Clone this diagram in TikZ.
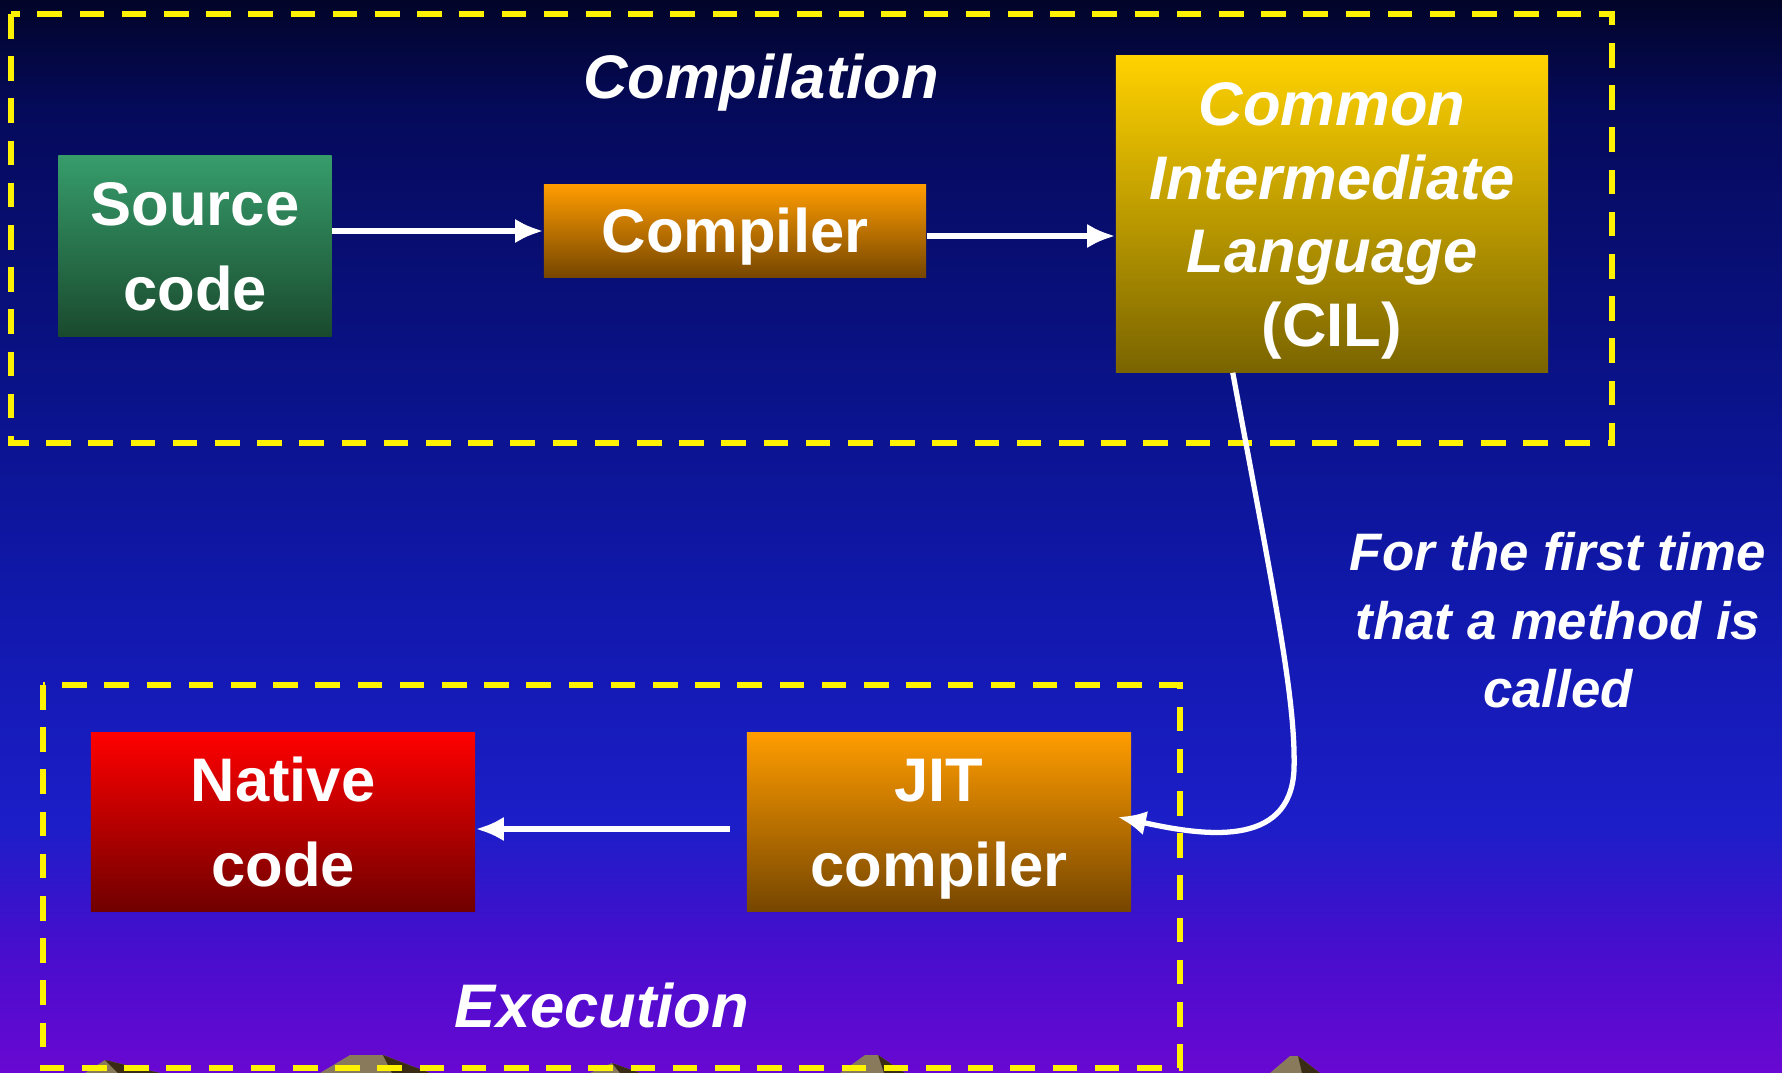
\documentclass[tikz,border=0pt]{standalone}
\usepackage{fontspec}
\setmainfont{Liberation Sans}
\usetikzlibrary{arrows.meta}

\definecolor{skytop}{RGB}{2,4,40}
\definecolor{skya}{RGB}{5,10,90}
\definecolor{skyb}{RGB}{10,18,135}
\definecolor{skyc}{RGB}{16,24,170}
\definecolor{skyd}{RGB}{28,30,200}
\definecolor{skye}{RGB}{70,14,205}
\definecolor{skyf}{RGB}{105,8,210}
\pgfdeclareverticalshading{sky}{100bp}{color(0bp)=(skyf); color(25bp)=(skyf); color(31bp)=(skye); color(36.5bp)=(skyd); color(47.5bp)=(skyc); color(57.5bp)=(skyb); color(70bp)=(skya); color(75bp)=(skytop); color(100bp)=(skytop)}

\definecolor{greentop}{RGB}{54,156,106}
\definecolor{greenbot}{RGB}{26,74,46}
\definecolor{orangetop}{RGB}{255,156,0}
\definecolor{orangebot}{RGB}{118,70,0}
\definecolor{goldtop}{RGB}{255,210,0}
\definecolor{goldbot}{RGB}{122,100,0}
\definecolor{redtop}{RGB}{255,0,0}
\definecolor{redbot}{RGB}{112,0,0}
\definecolor{rocklight}{RGB}{138,122,92}
\definecolor{rockdark}{RGB}{58,44,20}

\begin{document}
\begin{tikzpicture}[x=0.01cm, y=-0.01cm,
    stage/.style={inner sep=0pt, text=white, align=center, text height=36.5pt, text depth=0pt, font=\fontsize{17.5}{24}\selectfont\bfseries},
    phase/.style={draw=yellow, line width=1.9pt, dash pattern=on 7pt off 5pt},
    flow/.style={draw=white, line width=1.5pt, -{Latex[length=8pt,width=7pt]}},
    caption/.style={text=white, align=center, font=\fontsize{17.5}{21}\selectfont\bfseries\itshape}]

    \useasboundingbox (0,0) rectangle (1782,1073);
    \shade[shading=sky] (0,0) rectangle (1782,1073);

    \fill[rocklight] (85,1073) -- (105,1060) -- (130,1066) -- (160,1073) -- cycle;
    \fill[rockdark] (105,1060) -- (130,1066) -- (160,1073) -- (118,1073) -- cycle;
    \fill[rocklight] (320,1073) -- (350,1055) -- (383,1055) -- (430,1073) -- cycle;
    \fill[rockdark] (383,1055) -- (430,1073) -- (392,1073) -- cycle;
    \fill[rocklight] (590,1073) -- (612,1063) -- (640,1073) -- cycle;
    \fill[rockdark] (612,1063) -- (640,1073) -- (620,1073) -- cycle;
    \fill[rocklight] (840,1073) -- (865,1055) -- (878,1055) -- (905,1073) -- cycle;
    \fill[rockdark] (878,1055) -- (905,1073) -- (884,1073) -- cycle;
    \fill[rocklight] (1270,1073) -- (1290,1056) -- (1298,1056) -- (1320,1073) -- cycle;
    \fill[rockdark] (1298,1056) -- (1320,1073) -- (1302,1073) -- cycle;

    \draw[phase] (11,14) rectangle (1612,443);
    \draw[phase] (43,685) rectangle (1180,1068);

    \node[caption] (compilation) at (761,83) {Compilation};
    \node[caption] (execution) at (602,1005) {Execution};

    \node[stage, top color=greentop, bottom color=greenbot, minimum width=2.73cm, minimum height=1.80cm] (source) at (195,246) {Source\\code};
    \node[stage, top color=orangetop, bottom color=orangebot, minimum width=3.82cm, minimum height=0.92cm, text height=12.5pt] (compiler) at (735,231) {Compiler};
    \node[stage, top color=goldtop, bottom color=goldbot, minimum width=4.32cm, minimum height=3.16cm, text height=75.5pt, font=\fontsize{17.5}{21}\selectfont\bfseries] (cil) at (1332,214) {\itshape Common\\\itshape Intermediate\\\itshape Language\\(CIL)};
    \node[stage, top color=redtop, bottom color=redbot, minimum width=3.84cm, minimum height=1.78cm] (native) at (283,822) {Native\\code};
    \node[stage, top color=orangetop, bottom color=orangebot, minimum width=3.84cm, minimum height=1.78cm] (jit) at (939,822) {JIT\\compiler};

    \node[caption, text height=50pt, text depth=0pt, font=\fontsize{15}{19.5}\selectfont\bfseries\itshape] (note) at (1558,620) {For the first time\\that a method is\\called};

    \draw[flow] (source.east |- compiler.west) -- (compiler.west);
    \draw[flow] ([yshift=-0.05cm]compiler.east) -- ([yshift=-0.05cm]compiler.east -| cil.west);
    \draw[flow] (cil.238) .. controls (1275,600) and (1296,700) .. (1294,770) .. controls (1290,850) and (1200,835) .. ([xshift=-0.14cm,yshift=0.05cm]jit.east);
    \draw[flow, shorten <=0.16cm] ([yshift=-0.07cm]jit.west) -- ([yshift=-0.07cm]native.east);

\end{tikzpicture}
\end{document}
